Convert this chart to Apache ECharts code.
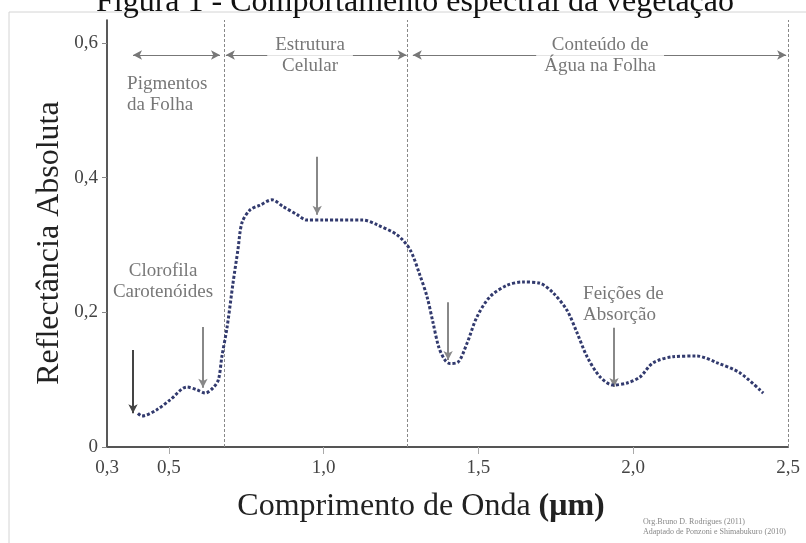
<!DOCTYPE html>
<html>
<head>
<meta charset="utf-8">
<script src="https://cdn.jsdelivr.net/npm/echarts@6/dist/echarts.min.js"></script>
<style>
  html, body { margin: 0; padding: 0; background: #fff; }
  #chart { width: 806px; height: 543px; }
</style>
</head>
<body>
<div id="chart"></div>
<script>
// comprimento de onda (um) e reflectancia
var waveX = [0.400, 0.413, 0.460, 0.504, 0.558, 0.590, 0.617, 0.643, 0.660, 0.671,
  0.688, 0.707, 0.723, 0.736, 0.762, 0.794, 0.833, 0.869, 0.914, 0.946,
  0.998, 1.127, 1.172, 1.237, 1.279, 1.311, 1.334, 1.353, 1.372, 1.392,
  1.408, 1.434, 1.463, 1.495, 1.537, 1.592, 1.643, 1.699, 1.741, 1.786,
  1.819, 1.851, 1.893, 1.935, 1.980, 2.022, 2.064, 2.129, 2.206, 2.271,
  2.345, 2.420];
var reflect = [0.050, 0.046, 0.055, 0.070, 0.089, 0.085, 0.080, 0.088, 0.100, 0.134,
  0.178, 0.243, 0.293, 0.333, 0.352, 0.359, 0.367, 0.357, 0.345, 0.337,
  0.337, 0.337, 0.330, 0.315, 0.293, 0.255, 0.223, 0.185, 0.148, 0.129,
  0.124, 0.126, 0.154, 0.193, 0.223, 0.240, 0.245, 0.243, 0.229, 0.203,
  0.169, 0.134, 0.104, 0.092, 0.095, 0.104, 0.125, 0.134, 0.135, 0.125,
  0.110, 0.080];

var xTicks = [0.5, 1.0, 1.5, 2.0];
var xLabels = [0.3, 0.5, 1.0, 1.5, 2.0, 2.5];
var yLabels = [0, 0.2, 0.4, 0.6];

// limites das regioes (onde aparecem na figura)
var bounds = [0.678, 1.275, 2.5];
// setas horizontais [inicio, fim, altura]
var ranges = [[0.384, 0.665, 0.582], [0.684, 1.268, 0.582], [1.288, 2.494, 0.582]];
// setas verticais [x, topo, ponta]
var pointers = [[0.384, 0.144, 0.050], [0.610, 0.178, 0.088], [0.979, 0.431, 0.345],
  [1.402, 0.215, 0.129], [1.938, 0.177, 0.089]];

var noteText = ['Pigmentos\nda Folha', 'Estrutura\nCelular', 'Conteúdo de\nÁgua na Folha',
  'Clorofila\nCarotenóides', 'Feições de\nAbsorção'];
var noteX = [0.365, 0.956, 1.893, 0.481, 1.838];
var noteY = [0.524, 0.582, 0.582, 0.246, 0.211];

var serif = 'Liberation Serif';
var fmt = function (v) { return v === 0 ? '0' : v.toFixed(1).replace('.', ','); };

var chart = echarts.init(document.getElementById('chart'));

var boundLines = bounds.map(function (b) { return { xAxis: b }; });
var rangeLines = ranges.map(function (r) {
  return [{ coord: [r[0], r[2]] }, { coord: [r[1], r[2]] }];
});
var pointerLines = pointers.map(function (p, i) {
  return [{ coord: [p[0], p[1]], symbol: 'none' },
    { coord: [p[0], p[2]], symbol: 'arrow', lineStyle: i === 0 ? { color: '#444' } : undefined }];
});

var leftAligned = [true, false, false, false, true];
var noteData = noteText.map(function (t, i) {
  var item = { value: [noteX[i], noteY[i]], name: t };
  if (leftAligned[i]) {
    item.label = { position: 'right', distance: 0, align: 'left' };
  } else {
    item.label = { position: 'inside', align: 'center' };
  }
  if (i === 1 || i === 2) {
    item.label.backgroundColor = '#fff';
    item.label.padding = [0, 8];
  }
  return item;
});

var option = {
  animation: false,
  backgroundColor: '#fff',
  grid: { left: 107, right: 18, top: 20, bottom: 96 },
  xAxis: {
    type: 'value', min: 0.3, max: 2.5,
    splitLine: { show: false },
    axisLine: { lineStyle: { color: '#555', width: 2 } },
    axisTick: { customValues: xTicks, length: 7, lineStyle: { color: '#aaa' } },
    axisLabel: {
      customValues: xLabels, formatter: fmt, margin: 12,
      fontFamily: serif, fontSize: 19, color: '#444'
    }
  },
  yAxis: {
    type: 'value', min: 0, max: 0.634,
    splitLine: { show: false },
    axisLine: { show: true, lineStyle: { color: '#222', width: 1.5 } },
    axisTick: { show: true, customValues: yLabels, length: 5, lineStyle: { color: '#888' } },
    axisLabel: {
      customValues: yLabels, formatter: fmt, margin: 9,
      fontFamily: serif, fontSize: 19, color: '#444'
    }
  },
  series: [
    {
      name: 'bounds', type: 'line', data: [], silent: true,
      markLine: {
        silent: true, symbol: 'none', label: { show: false },
        lineStyle: { type: [3, 2], color: '#888', width: 1 },
        data: boundLines
      }
    },
    {
      name: 'ranges', type: 'line', data: [], silent: true,
      markLine: {
        silent: true, symbol: ['arrow', 'arrow'], symbolSize: [7, 9],
        label: { show: false },
        lineStyle: { type: 'solid', color: '#777', width: 1 },
        emphasis: { disabled: true },
        data: rangeLines
      }
    },
    {
      name: 'pointers', type: 'line', data: [], silent: true,
      markLine: {
        silent: true, symbol: ['none', 'arrow'], symbolSize: [7, 9],
        label: { show: false },
        lineStyle: { type: 'solid', color: '#888', width: 2 },
        emphasis: { disabled: true },
        data: pointerLines
      }
    },
    {
      name: 'Reflectância', type: 'line', smooth: 0.3, showSymbol: false, z: 5,
      data: waveX.map(function (x, i) { return [x, reflect[i]]; }),
      lineStyle: { color: '#323a6e', width: 3, type: [3, 2] }
    },
    {
      name: 'notes', type: 'scatter', symbolSize: 0, z: 10, silent: true,
      data: noteData,
      label: {
        show: true, formatter: '{b}', fontFamily: serif, fontSize: 19,
        lineHeight: 21, color: '#555'
      }
    }
  ],
  graphic: [
    {
      type: 'rect', silent: true, z: -1,
      shape: { x: 9, y: 12, width: 900, height: 600 },
      style: { fill: 'none', stroke: '#d4d4d4', lineWidth: 1 }
    },
    {
      type: 'text', x: 415, y: -13, silent: true,
      style: {
        text: 'Figura 1 - Comportamento espectral da vegetação', font: '32px ' + serif,
        fill: '#111', align: 'center', verticalAlign: 'top'
      }
    },
    {
      type: 'text', x: 50, y: 243, rotation: Math.PI / 2, silent: true,
      style: {
        text: 'Reflectância Absoluta', font: '32px ' + serif, fill: '#222',
        align: 'center', verticalAlign: 'middle'
      }
    },
    {
      type: 'text', x: 421, y: 507, silent: true,
      style: {
        text: 'Comprimento de Onda {b|(μm)}', font: '32px ' + serif, fill: '#222',
        align: 'center', verticalAlign: 'middle',
        rich: { b: { font: 'bold 32px ' + serif, fill: '#222' } }
      }
    },
    {
      type: 'text', x: 643, y: 517, silent: true,
      style: {
        text: 'Org.Bruno D. Rodrigues (2011)\nAdaptado de Ponzoni e Shimabukuro (2010)',
        font: '8px ' + serif, fill: '#888', lineHeight: 10
      }
    }
  ]
};

chart.setOption(option);
</script>
</body>
</html>
